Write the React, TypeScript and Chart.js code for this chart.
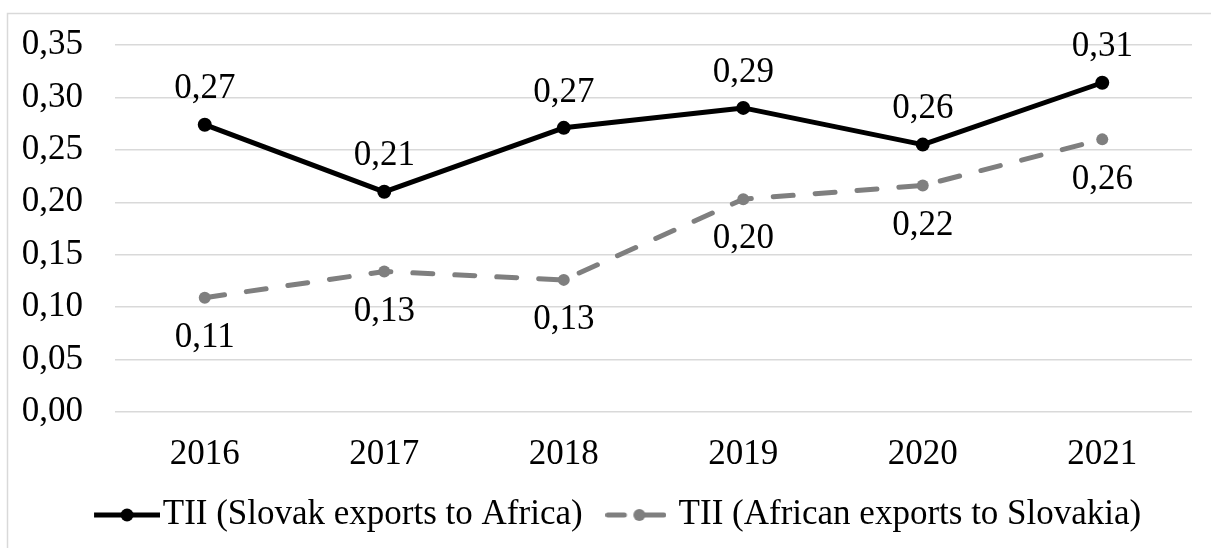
import React, { useEffect, useRef } from "react";
import { Chart, registerables } from "chart.js";

Chart.register(...registerables);

const years = ["2016", "2017", "2018", "2019", "2020", "2021"];
const slovakExports = [0.274, 0.21, 0.271, 0.29, 0.255, 0.314];
const africanExports = [0.109, 0.134, 0.126, 0.203, 0.216, 0.26];
const seriesNames = ["TII (Slovak exports to Africa)", "TII (African exports to Slovakia)"];
const yTicks = [0, 0.05, 0.1, 0.15, 0.2, 0.25, 0.3, 0.35];

const FONT = "'Liberation Serif', 'Times New Roman', serif";
const FS = 35;
const fmt = (v: number) => v.toFixed(2).replace(".", ",");

function legendImage(color: string, dashed: boolean): HTMLCanvasElement {
  const c = document.createElement("canvas");
  c.width = dashed ? 61 : 80;
  c.height = 16;
  const ctx = c.getContext("2d")!;
  ctx.strokeStyle = color;
  ctx.fillStyle = color;
  ctx.lineWidth = 5;
  if (dashed) {
    ctx.lineCap = "round";
    ctx.beginPath();
    ctx.moveTo(2.5, 8);
    ctx.lineTo(19, 8);
    ctx.stroke();
    ctx.beginPath();
    ctx.moveTo(34, 8);
    ctx.lineTo(58.5, 8);
    ctx.stroke();
    ctx.beginPath();
    ctx.arc(34, 8, 6, 0, Math.PI * 2);
    ctx.fill();
  } else {
    ctx.lineCap = "butt";
    ctx.beginPath();
    ctx.moveTo(14, 8);
    ctx.lineTo(80, 8);
    ctx.stroke();
    ctx.beginPath();
    ctx.arc(47, 8, 6.5, 0, Math.PI * 2);
    ctx.fill();
  }
  return c;
}

const borderPlugin = {
  id: "outerBorder",
  beforeDraw(chart: any) {
    const ctx = chart.ctx;
    ctx.save();
    ctx.fillStyle = "#ffffff";
    ctx.fillRect(0, 0, chart.width, chart.height);
    ctx.strokeStyle = "#d9d9d9";
    ctx.lineWidth = 1.5;
    ctx.strokeRect(7.5, 13.5, chart.width + 20, chart.height + 20);
    ctx.restore();
  },
};

const legendShiftPlugin = {
  id: "legendShift",
  afterLayout(chart: any) {
    if (chart.legend) {
      chart.legend.left += 24;
    }
  },
};

const labelPlugin = {
  id: "valueLabels",
  afterDatasetsDraw(chart: any) {
    const ctx = chart.ctx;
    ctx.save();
    ctx.font = `${FS}px ${FONT}`;
    ctx.fillStyle = "#000";
    ctx.textAlign = "center";
    ctx.textBaseline = "middle";
    chart.data.datasets.forEach((ds: any, di: number) => {
      const meta = chart.getDatasetMeta(di);
      const offset = di === 0 ? -35.5 : 40;
      meta.data.forEach((pt: any, i: number) => {
        ctx.fillText(fmt(ds.data[i]), pt.x, pt.y + offset);
      });
    });
    ctx.restore();
  },
};

export default function App() {
  const ref = useRef<HTMLCanvasElement>(null);
  useEffect(() => {
    if (!ref.current) return;
    const imgs = [legendImage("#000000", false), legendImage("#7f7f7f", true)];
    const chart = new Chart(ref.current, {
      type: "line",
      data: {
        labels: years,
        datasets: [
          {
            label: seriesNames[0],
            data: slovakExports,
            borderColor: "#000000",
            backgroundColor: "#000000",
            borderWidth: 5,
            borderCapStyle: "round",
            borderJoinStyle: "round",
            pointRadius: 7,
            pointBorderWidth: 0,
            pointBackgroundColor: "#000000",
            tension: 0,
          },
          {
            label: seriesNames[1],
            data: africanExports,
            borderColor: "#7f7f7f",
            backgroundColor: "#7f7f7f",
            borderWidth: 5,
            borderCapStyle: "round",
            borderDash: [20, 22],
            pointRadius: 6,
            pointBorderWidth: 0,
            pointBackgroundColor: "#7f7f7f",
            tension: 0,
          },
        ],
      },
      options: {
        responsive: false,
        animation: false,
        devicePixelRatio: 1,
        layout: { padding: { left: 20, right: 19, top: 45, bottom: 5.5 } },
        scales: {
          x: {
            offset: true,
            grid: { display: false, drawTicks: false },
            border: { display: false },
            ticks: { font: { family: FONT, size: FS }, color: "#000", padding: 21.5 },
            afterFit: (s: any) => {
              s.height = 57.5;
              s.paddingLeft = 0;
              s.paddingRight = 0;
            },
          },
          y: {
            min: 0,
            max: 0.35,
            afterBuildTicks: (s: any) => {
              s.ticks = yTicks.map((v) => ({ value: v }));
            },
            grid: { color: "#d9d9d9", lineWidth: 1.5, drawTicks: false },
            border: { display: false },
            ticks: {
              font: { family: FONT, size: FS },
              color: "#000",
              padding: 32,
              callback: (v: any) => fmt(Number(v)),
            },
            afterFit: (s: any) => {
              s.width = 95;
              s.paddingTop = 0;
              s.paddingBottom = 0;
            },
          },
        },
        plugins: {
          legend: {
            position: "bottom",
            labels: {
              usePointStyle: true,
              pointStyleWidth: 50.5,
              padding: 28,
              color: "#000",
              font: { family: FONT, size: FS },
              generateLabels: (chart: any) =>
                chart.data.datasets.map((ds: any, i: number) => ({
                  text: ds.label,
                  pointStyle: imgs[i],
                  fillStyle: ds.borderColor,
                  strokeStyle: ds.borderColor,
                  lineWidth: 0,
                  hidden: false,
                  datasetIndex: i,
                  fontColor: "#000",
                })),
            },
          },
          tooltip: { enabled: false },
        },
      },
      plugins: [borderPlugin, legendShiftPlugin, labelPlugin],
    });
    return () => chart.destroy();
  }, []);

  return (
    <div style={{ position: "fixed", left: 0, top: 0, width: 1211, height: 548, background: "#fff" }}>
      <canvas ref={ref} width={1211} height={548} style={{ display: "block" }} />
    </div>
  );
}
